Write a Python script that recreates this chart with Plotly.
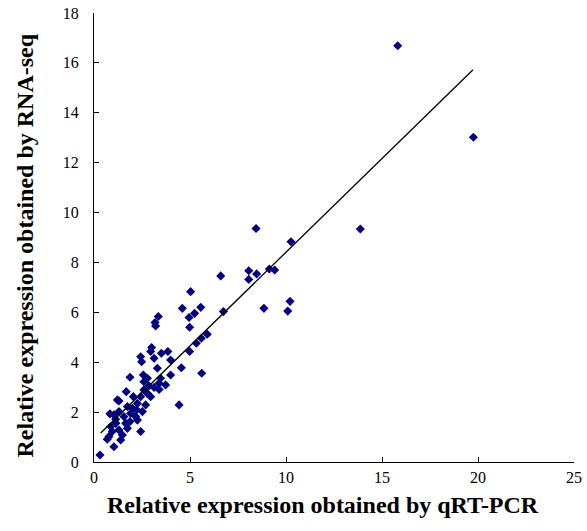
import plotly.graph_objects as go

# qRT-PCR (x) vs RNA-seq (y) relative expression
qrt_pcr = [
    0.31, 0.69, 0.78, 0.87, 0.95, 1.04, 1.13, 1.30, 1.39, 1.48,
    0.83, 1.04, 1.30, 1.56, 1.91, 2.22, 2.52, 2.17, 1.875, 1.65,
    1.13, 1.13, 1.74, 2.26, 2.43, 1.22, 1.30, 4.43, 2.26, 2.69,
    1.74, 2.00, 1.68, 2.05, 2.43, 2.78, 2.60, 2.95, 3.13, 3.39,
    3.73, 3.39, 2.60, 2.86, 1.875, 2.57, 2.78, 3.99, 3.47, 3.30,
    4.55, 5.61, 2.43, 2.48, 3.13, 3.00, 2.95, 3.85, 3.51, 3.99,
    4.98, 5.33, 5.59, 5.90, 3.35, 3.18, 3.21, 4.60, 5.56, 5.24,
    4.95, 4.98, 5.03, 6.60, 6.74, 8.06, 8.06, 8.47, 8.44, 9.13,
    9.41, 8.85, 10.21, 10.09, 10.26, 13.87, 15.82, 19.76,
]
rna_seq = [
    0.28, 0.91, 1.02, 1.42, 1.22, 0.61, 1.55, 1.28, 0.88, 1.08,
    1.93, 1.89, 2.02, 1.82, 1.95, 2.09, 2.02, 1.82, 1.62, 1.55,
    1.71, 1.55, 1.35, 1.68, 1.22, 2.49, 2.45, 2.29, 2.35, 2.29,
    2.22, 2.15, 2.82, 2.62, 2.62, 2.75, 2.89, 2.62, 2.99, 2.91,
    3.09, 3.16, 3.22, 3.05, 3.40, 3.49, 3.36, 3.49, 3.36, 3.76,
    3.78, 3.56, 4.22, 4.02, 4.16, 4.59, 4.43, 4.43, 4.36, 4.09,
    4.43, 4.76, 4.96, 5.12, 5.83, 5.59, 5.45, 6.16, 6.20, 5.96,
    5.79, 5.40, 6.83, 7.46, 6.03, 7.67, 7.32, 7.54, 9.36, 7.74,
    7.70, 6.16, 6.44, 6.05, 8.83, 9.34, 16.69, 13.02,
]

# linear trend line y = a*x + b, drawn over the data range
trend_slope = 0.751
trend_intercept = 0.90
trend_x = [min(qrt_pcr) + 0.04, max(qrt_pcr) - 0.02]
trend_y = [trend_slope * v + trend_intercept for v in trend_x]

x_ticks = [0, 5, 10, 15, 20, 25]
y_ticks = [0, 2, 4, 6, 8, 10, 12, 14, 16, 18]

x_title = "Relative expression obtained by qRT-PCR"
y_title = "Relative expression obtained by RNA-seq"

fig = go.Figure()
fig.add_trace(go.Scatter(
    x=qrt_pcr, y=rna_seq, mode="markers",
    marker=dict(symbol="diamond", size=7, color="#000080", line=dict(width=0)),
    showlegend=False, hoverinfo="x+y",
))
fig.add_trace(go.Scatter(
    x=trend_x, y=trend_y, mode="lines",
    line=dict(color="black", width=1.3),
    showlegend=False, hoverinfo="skip",
))

tick_font = dict(family="Liberation Serif, Times New Roman, serif", size=16, color="black")
title_font = dict(family="Liberation Serif, Times New Roman, serif", size=24, color="black")

fig.update_layout(
    width=587, height=531,
    margin=dict(l=94, r=13, t=13, b=69),
    paper_bgcolor="white", plot_bgcolor="white",
    xaxis=dict(
        range=[0, 25], tickvals=x_ticks, ticks="inside", ticklen=5, tickwidth=1,
        tickcolor="black", showline=True, linecolor="black", linewidth=1,
        showgrid=False, zeroline=False, tickfont=tick_font, automargin=False,
        ticklabelstandoff=1, ticklabeloverflow="allow",
    ),
    yaxis=dict(
        range=[0, 18], tickvals=y_ticks, ticks="inside", ticklen=5, tickwidth=1,
        tickcolor="black", showline=True, linecolor="black", linewidth=1,
        showgrid=False, zeroline=False, tickfont=tick_font, automargin=False,
        ticklabelstandoff=11, ticklabeloverflow="allow",
    ),
    annotations=[
        dict(text="<b>%s</b>" % x_title, xref="paper", yref="paper",
             x=0.477, y=-0.096, xanchor="center", yanchor="middle",
             showarrow=False, font=title_font),
        dict(text="<b>%s</b>" % y_title, xref="paper", yref="paper",
             x=-0.144, y=0.482, xanchor="center", yanchor="middle",
             textangle=-90, showarrow=False, font=title_font),
    ],
)

fig.write_html(
    "out.html",
    config={"displayModeBar": False},
    post_script="document.body.style.margin='0';document.body.style.overflow='hidden';",
)
